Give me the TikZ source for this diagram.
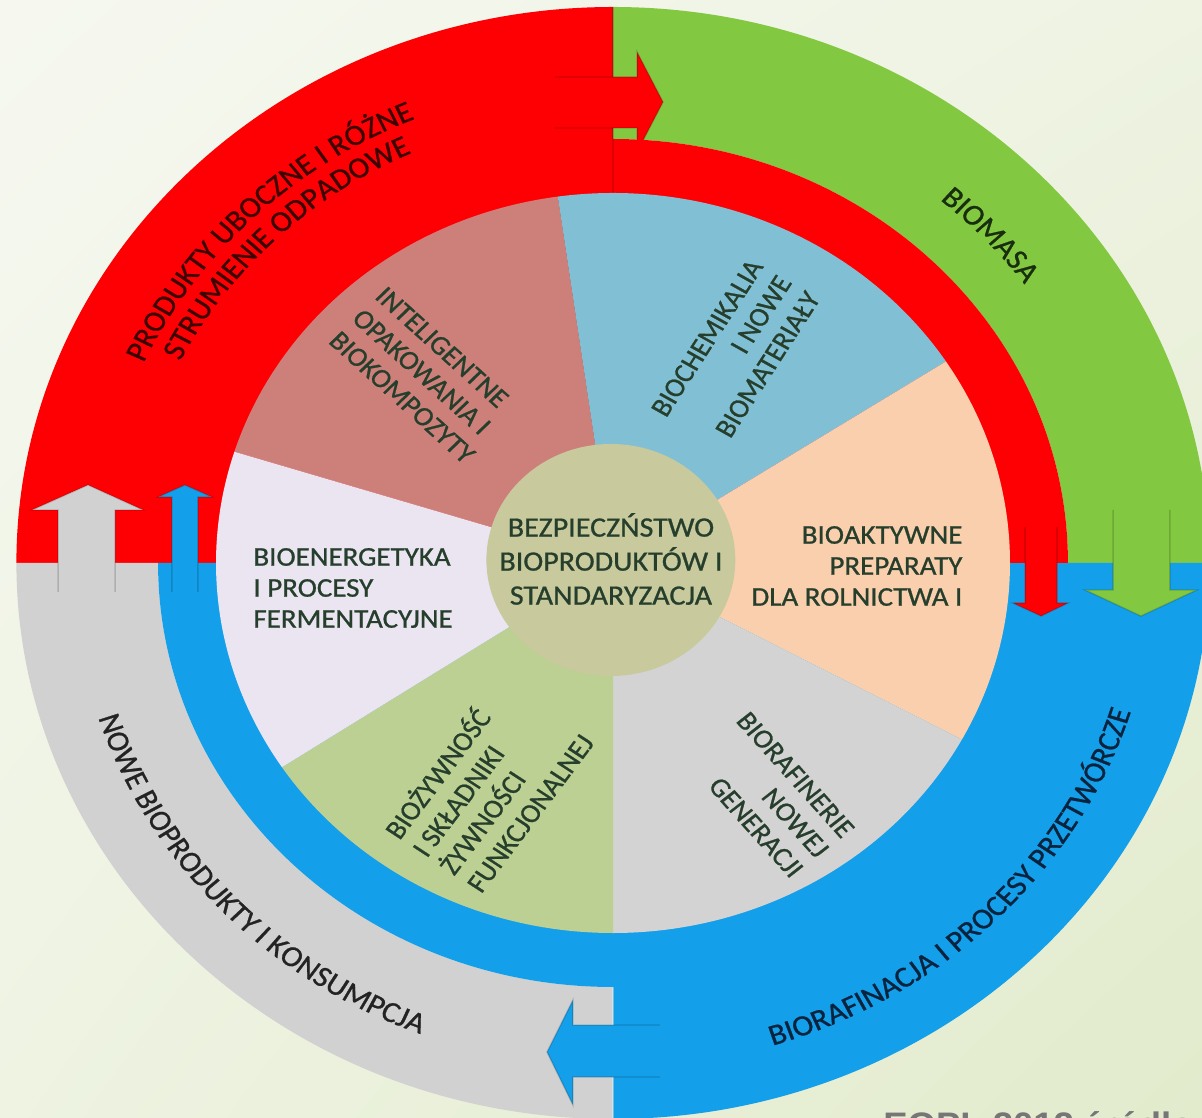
\documentclass[tikz,border=0pt]{standalone}
\usepackage{fontspec}
\setmainfont{Carlito}
\newfontfamily\sbfont{Carlito}[FakeBold=0.8]
\newfontfamily\srcfont{Liberation Sans}
\usetikzlibrary{decorations.text,shadings}
\definecolor{cred}{RGB}{254,0,4}
\definecolor{cgreen}{RGB}{130,201,65}
\definecolor{cblue}{RGB}{19,159,233}
\definecolor{cgray}{RGB}{209,209,209}
\definecolor{prose}{RGB}{205,128,122}
\definecolor{pblue}{RGB}{129,192,212}
\definecolor{ppeach}{RGB}{249,207,173}
\definecolor{pgray}{RGB}{211,211,211}
\definecolor{pgreen}{RGB}{187,208,146}
\definecolor{plav}{RGB}{234,229,240}
\definecolor{pcenter}{RGB}{200,201,157}
\definecolor{bgA}{RGB}{246,248,240}
\definecolor{bgC}{RGB}{238,243,226}
\definecolor{bgB}{RGB}{226,235,204}
\definecolor{txt}{RGB}{38,62,44}
\definecolor{txtred}{RGB}{60,0,0}
\definecolor{txtgreen}{RGB}{25,45,15}
\definecolor{txtblue}{RGB}{8,35,62}
\definecolor{txtgray}{RGB}{35,35,35}
\definecolor{srcgray}{RGB}{118,118,118}
\newcommand{\otfont}{\sbfont\fontsize{14.75pt}{14.75pt}\selectfont}
\begin{document}
\begin{tikzpicture}[x=0.5pt,y=0.5pt,
  pietext/.style={font=\sbfont\fontsize{13.5pt}{15.5pt}\selectfont, text=txt, inner sep=0pt},
  ctext/.style={font=\sbfont\fontsize{14pt}{17pt}\selectfont, text=txt, inner sep=0pt, align=center},
  arrline/.style={draw=black, draw opacity=0.16, line width=0.7pt, line join=miter}]
\useasboundingbox (-613,-554) rectangle (589,563);
\shade[upper left=bgA, upper right=bgC, lower left=bgC, lower right=bgB] (-613,-554) rectangle (589,563);
\begin{scope}[transform canvas={xscale=1.073}]
  % outer ring quadrants
  \fill[cred] (0,0) -- (90:556) arc[start angle=90, end angle=180, radius=556] -- cycle;
  \fill[cgreen] (0:424) arc[start angle=0, end angle=90, radius=424] -- (90:556) arc[start angle=90, end angle=0, radius=556] -- cycle;
  \fill[cblue] (0,0) -- (-90:556) arc[start angle=-90, end angle=0, radius=556] -- cycle;
  \fill[cgray] (180:424) arc[start angle=180, end angle=270, radius=424] -- (270:556) arc[start angle=270, end angle=180, radius=556] -- cycle;
  \fill[cblue] (0,0) -- (180:424) arc[start angle=180, end angle=270, radius=424] -- cycle;
  % seams
  \draw[black, opacity=0.18, line width=0.6pt] (0,424) -- (0,556);
  % red arrow to the right (top)
  \fill[cred] (-54,435) -- (22.4,435) -- (22.4,411) -- (46.6,461) -- (22.4,511) -- (22.4,486) -- (-54,486) -- cycle;
  \draw[arrline] (-54,486) -- (22.4,486) -- (22.4,511) -- (46.6,461) -- (22.4,411) -- (22.4,435) -- (-54,435);
  % red inner band (top right)
  \fill[cred] (0,0) -- (0,424) arc[start angle=90, end angle=0, radius=424] -- cycle;
  \draw[black, opacity=0.12, line width=0.6pt] (0,370) -- (0,424);
  % red arrow down (right)
  \fill[cred] (384,36) -- (384,-40) -- (372.8,-40) -- (398.9,-53) -- (424,-40) -- (413.8,-40) -- (413.8,36) -- cycle;
  \draw[arrline] (384,36) -- (384,-40) -- (372.8,-40) -- (398.9,-53) -- (424,-40) -- (413.8,-40) -- (413.8,36);
  % green arrow down
  \fill[cgreen] (466,53) -- (466,-27) -- (440,-27) -- (492,-53) -- (544,-27) -- (519,-27) -- (519,53) -- cycle;
  \draw[arrline] (466,53) -- (466,-27) -- (440,-27) -- (492,-53) -- (544,-27) -- (519,-27) -- (519,53);
  % gray arrow up
  \fill[cgray] (-517.2,-29) -- (-517.2,53) -- (-541.5,53) -- (-489.3,78) -- (-438,53) -- (-464.1,53) -- (-464.1,-29) -- cycle;
  \draw[arrline] (-517.2,-29) -- (-517.2,53) -- (-541.5,53) -- (-489.3,78) -- (-438,53) -- (-464.1,53) -- (-464.1,-29);
  % blue arrow up
  \fill[cblue] (-411,-29) -- (-411,66) -- (-424,66) -- (-399,78) -- (-373.7,66) -- (-386.8,66) -- (-386.8,-29) -- cycle;
  \draw[arrline] (-411,-29) -- (-411,66) -- (-424,66) -- (-399,78) -- (-373.7,66) -- (-386.8,66) -- (-386.8,-29);
  % blue arrow left (bottom)
  \draw[white, opacity=0.3, line width=0.6pt] (0,-424) -- (0,-556);
  \fill[cblue] (43.8,-462) -- (-37.3,-462) -- (-37.3,-437) -- (-61.5,-489) -- (-37.3,-542) -- (-37.3,-514) -- (43.8,-514) -- cycle;
  \draw[arrline] (43.8,-462) -- (-37.3,-462) -- (-37.3,-437) -- (-61.5,-489) -- (-37.3,-542) -- (-37.3,-514) -- (43.8,-514);
  % pie
  \fill[prose] (0,0) -- (98:370) arc[start angle=98, end angle=162.5, radius=370] -- cycle;
  \fill[pblue] (0,0) -- (33:370) arc[start angle=33, end angle=98, radius=370] -- cycle;
  \fill[ppeach] (0,0) -- (-28.5:370) arc[start angle=-28.5, end angle=33, radius=370] -- cycle;
  \fill[pgray] (0,0) -- (-90:370) arc[start angle=-90, end angle=-28.5, radius=370] -- cycle;
  \fill[pgreen] (0,0) -- (-146.5:370) arc[start angle=-146.5, end angle=-90, radius=370] -- cycle;
  \fill[plav] (0,0) -- (162.5:370) arc[start angle=162.5, end angle=213.5, radius=370] -- cycle;
  \fill[pcenter] (-2,3) circle[radius=116];
  % pie texts
  \node[pietext, align=left, anchor=west, rotate=-44] (tRose) at (-238.7,249.4) {INTELIGENTNE\\OPAKOWANIA I\\BIOKOMPOZYTY};
  \node[pietext, align=right, anchor=east, rotate=59] (tBlue) at (160.1,285.2) {BIOCHEMIKALIA\\I NOWE\\BIOMATERIAŁY};
  \node[pietext, align=right, anchor=east] (tPeach) at (326,-3) {BIOAKTYWNE\\PREPARATY\\DLA ROLNICTWA I};
  \node[pietext, align=right, anchor=east, rotate=-50] (tGray) at (196.1,-291.1) {BIORAFINERIE\\NOWEJ\\GENERACJI};
  \node[pietext, align=left, anchor=west, rotate=55] (tGreen) at (-170.1,-298.5) {BIOŻYWNOŚĆ\\I SKŁADNIKI\\ŻYWNOŚCI\\FUNKCJONALNEJ};
  \node[pietext, align=left, anchor=west] (tLav) at (-335.5,-25) {BIOENERGETYKA\\I PROCESY\\FERMENTACYJNE};
  \node[ctext] (tCenter) at (-1.9,4) {BEZPIECZŃSTWO\\BIOPRODUKTÓW I\\STANDARYZACJA};
  % outer texts along the ring
  \path[decorate, decoration={text along path, text align=center,
     text={|\otfont\color{txtred}|PRODUKTY UBOCZNE I RÓŻNE}}]
     (166:481) arc[start angle=166, end angle=102, radius=481];
  \path[decorate, decoration={text along path, text align=center,
     text={|\otfont\color{txtred}|STRUMIENIE ODPADOWE}}]
     (166:451) arc[start angle=166, end angle=102, radius=451];
  \path[decorate, decoration={text along path, text align=center,
     text={|\otfont\color{txtgreen}|BIOMASA}}]
     (63:474) arc[start angle=63, end angle=23, radius=474];
  \path[decorate, decoration={text along path, text align=center,
     text={|\otfont\color{txtblue}|BIORAFINACJA I PROCESY PRZETWÓRCZE}}]
     (-76:505) arc[start angle=-76, end angle=-14, radius=505];
  \path[decorate, decoration={text along path, text align=center,
     text={|\otfont\color{txtgray}|NOWE BIOPRODUKTY I KONSUMPCJA}}]
     (192:504) arc[start angle=192, end angle=255, radius=504];
  % source (cut by the lower edge)
  \node[font=\srcfont\bfseries\fontsize{17pt}{17pt}\selectfont, text=srcgray, anchor=base west, inner sep=0pt] (tSrc) at (251.6,-573) {EOPL 2012 źródło};
\end{scope}
\end{tikzpicture}
\end{document}
